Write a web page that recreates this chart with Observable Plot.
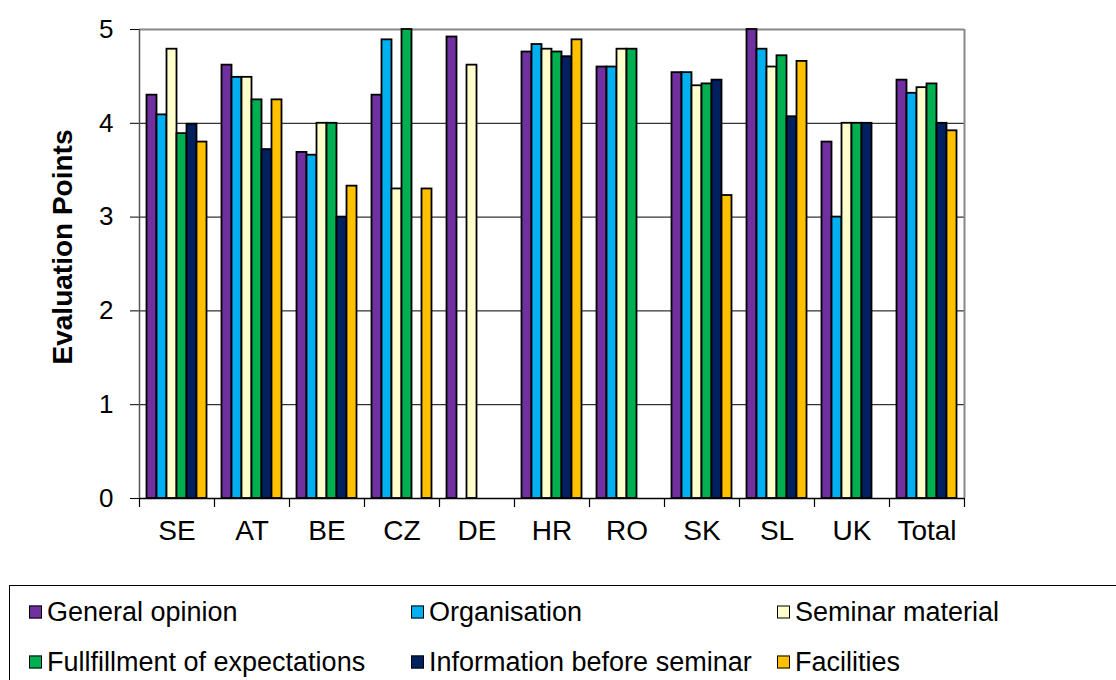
<!DOCTYPE html>
<html>
<head>
<meta charset="utf-8">
<script src="https://cdn.jsdelivr.net/npm/d3@7"></script>
<script src="https://cdn.jsdelivr.net/npm/@observablehq/plot@0.6"></script>
<style>
  body { margin: 0; background: #fff; font-family: "Liberation Sans", Arial, sans-serif; }
  #wrap { position: relative; width: 1116px; height: 680px; overflow: hidden; background: #fff; }
  #chart { position: absolute; left: 0; top: 0; }
  #chart g[aria-label="fx-axis tick label"] { font-size: 28px; }
  #ytitle { position: absolute; left: 63px; top: 247px; transform: translate(-50%, -50%) rotate(-90deg);
            font-weight: bold; font-size: 28px; white-space: nowrap; color: #000; }
  #legend { position: absolute; left: 9px; top: 585px; width: 1200px; height: 120px;
            border: 1.5px solid #000; box-sizing: border-box; }
  .item { position: absolute; display: flex; align-items: center; font-size: 27px; white-space: nowrap;
          transform: translateY(-50%); color: #000; }
  .sw { width: 11px; height: 11px; border: 1.5px solid #000; margin-right: 5px; flex: none; }
</style>
</head>
<body>
<div id="wrap">
  <div id="chart"></div>
  <div id="ytitle">Evaluation Points</div>
  <div id="legend"></div>
</div>
<script>
const countries = ["SE", "AT", "BE", "CZ", "DE", "HR", "RO", "SK", "SL", "UK", "Total"];
const series = ["General opinion", "Organisation", "Seminar material",
                "Fullfillment of expectations", "Information before seminar", "Facilities"];
const colors = ["#7030A0", "#00B0F0", "#FFFFCC", "#00B050", "#002060", "#FFC000"];

// values per series, in the order of countries (null = no bar)
const generalOpinion = [4.30, 4.62, 3.69, 4.30, 4.92, 4.76, 4.60, 4.54, 5.00, 3.80, 4.46];
const organisation   = [4.09, 4.49, 3.66, 4.89, null, 4.84, 4.60, 4.54, 4.79, 3.00, 4.32];
const seminarMat     = [4.79, 4.49, 4.00, 3.30, 4.62, 4.79, 4.79, 4.40, 4.60, 4.00, 4.38];
const fulfillment    = [3.89, 4.25, 4.00, 5.00, null, 4.76, 4.79, 4.42, 4.72, 4.00, 4.42];
const infoBefore     = [3.99, 3.72, 3.00, null, null, 4.71, null, 4.46, 4.07, 4.00, 4.00];
const facilities     = [3.80, 4.25, 3.33, 3.30, null, 4.89, null, 3.23, 4.66, null, 3.92];
const yTicks = [0, 1, 2, 3, 4, 5];

const seriesValues = [generalOpinion, organisation, seminarMat, fulfillment, infoBefore, facilities];
const data = [];
countries.forEach((c, ci) => {
  series.forEach((s, si) => {
    const v = seriesValues[si][ci];
    if (v != null) data.push({country: c, series: s, value: v});
  });
});

const W = 1116, H = 570, mL = 139, mR = 152, mT = 29, mB = 72;
const facetW = (W - mL - mR) / countries.length;
const innerOuter = 0.75;
const barStep = facetW / (series.length + 2 * innerOuter);
const edge = innerOuter * barStep + barStep / 2; // from first bar center to facet edge
const tickLen = 9 / ((H - mT - mB) / 5);

const chart = Plot.plot({
  width: W, height: H,
  marginLeft: mL, marginRight: mR, marginTop: mT, marginBottom: mB,
  style: {fontFamily: "Liberation Sans, Arial, sans-serif", fontSize: "26px", color: "#000", background: "#fff"},
  fx: {domain: countries, padding: 0, round: false, axis: "bottom", tickSize: 0, tickPadding: 22, label: null},
  x: {domain: series, paddingInner: 0, paddingOuter: innerOuter, round: false, axis: null},
  y: {domain: [0, 5], ticks: yTicks, tickSize: 9, tickPadding: 17, label: null, tickFormat: d3.format("d")},
  color: {domain: series, range: colors},
  marks: [
    Plot.ruleY([1, 2, 3, 4], {stroke: "#000", strokeWidth: 1}),
    Plot.ruleY([5], {stroke: "#888", strokeWidth: 2}),
    Plot.barY(data, {fx: "country", x: "series", y: "value", fill: "series", stroke: "#000", strokeWidth: 1.8}),
    Plot.ruleY([0], {stroke: "#000", strokeWidth: 1.5}),
    // boundary ticks below x axis
    Plot.ruleX(countries, {fx: d => d, x: () => series[0], dx: -edge, y1: 0, y2: -tickLen, stroke: "#000", strokeWidth: 1.2}),
    Plot.ruleX(countries.slice(-1), {fx: d => d, x: () => series[series.length - 1], dx: edge, y1: 0, y2: -tickLen, stroke: "#000", strokeWidth: 1.2}),
    // left axis line and right border
    Plot.ruleX(countries.slice(0, 1), {fx: d => d, x: () => series[0], dx: -edge, y1: 0, y2: 5, stroke: "#555", strokeWidth: 1.5}),
    Plot.ruleX(countries.slice(-1), {fx: d => d, x: () => series[series.length - 1], dx: edge, y1: 0, y2: 5, stroke: "#888", strokeWidth: 2})
  ]
});
document.getElementById("chart").appendChild(chart);

// legend
const legendPos = [[19, 26], [401, 26], [767, 26], [19, 76], [401, 76], [767, 76]];
const legend = d3.select("#legend");
series.forEach((s, i) => {
  const item = legend.append("div").attr("class", "item")
    .style("left", legendPos[i][0] + "px").style("top", legendPos[i][1] + "px");
  item.append("div").attr("class", "sw").style("background", colors[i]);
  item.append("span").text(s);
});
</script>
</body>
</html>
